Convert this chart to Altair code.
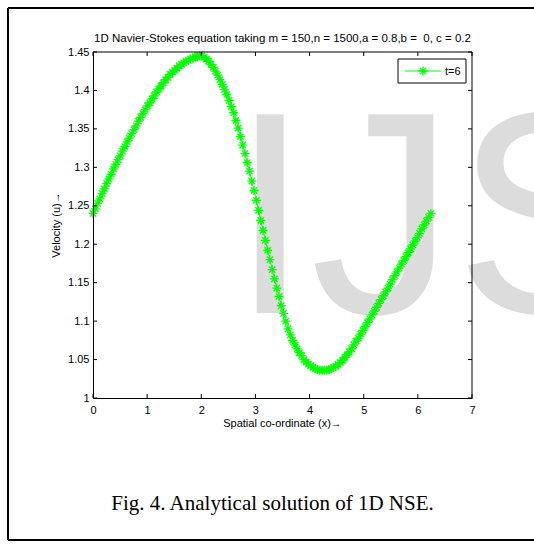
import altair as alt
import numpy as np
import pandas as pd

# ---- data ----
u_values = [
    1.240, 1.246, 1.253, 1.259, 1.266, 1.272, 1.279, 1.285, 1.291, 1.298,
    1.304, 1.310, 1.315, 1.321, 1.327, 1.333, 1.338, 1.344, 1.349, 1.354,
    1.360, 1.365, 1.370, 1.375, 1.380, 1.384, 1.389, 1.393, 1.398, 1.402,
    1.406, 1.410, 1.414, 1.417, 1.421, 1.424, 1.426, 1.429, 1.432, 1.434,
    1.436, 1.438, 1.439, 1.441, 1.442, 1.444, 1.444, 1.445, 1.445, 1.443,
    1.441, 1.438, 1.434, 1.430, 1.425, 1.420, 1.414, 1.408, 1.401, 1.395,
    1.387, 1.379, 1.371, 1.361, 1.351, 1.340, 1.329, 1.318, 1.306, 1.295,
    1.282, 1.270, 1.257, 1.244, 1.231, 1.218, 1.205, 1.192, 1.180, 1.167,
    1.155, 1.143, 1.132, 1.120, 1.110, 1.100, 1.090, 1.082, 1.075, 1.069,
    1.064, 1.059, 1.055, 1.050, 1.047, 1.044, 1.042, 1.040, 1.038, 1.037,
    1.036, 1.036, 1.036, 1.036, 1.037, 1.038, 1.040, 1.041, 1.044, 1.046,
    1.049, 1.053, 1.056, 1.060, 1.064, 1.069, 1.074, 1.078, 1.083, 1.088,
    1.093, 1.098, 1.103, 1.108, 1.113, 1.118, 1.123, 1.128, 1.133, 1.138,
    1.143, 1.148, 1.154, 1.159, 1.164, 1.169, 1.174, 1.179, 1.184, 1.189,
    1.194, 1.199, 1.204, 1.209, 1.214, 1.220, 1.225, 1.230, 1.235, 1.240,
]
X_STEP = 2 * np.pi / 150  # uniform spatial grid spacing
x_values = [round(i * X_STEP, 5) for i in range(len(u_values))]

x_ticks = [0, 1, 2, 3, 4, 5, 6, 7]
y_ticks = [1.0, 1.05, 1.1, 1.15, 1.2, 1.25, 1.3, 1.35, 1.4, 1.45]

title_text = "1D Navier-Stokes equation taking m = 150,n = 1500,a = 0.8,b = \u00a00, c = 0.2"
x_title = "Spatial co-ordinate (x)\u2192"
y_title = "Velocity (u)\u2192"
legend_label = "t=6"
caption = "Fig. 4. Analytical solution of 1D NSE."
watermark = "IJS"

# ---- layout / style ----
W, H = 379, 346
PAD = {"left": 93, "top": 52, "right": 62, "bottom": 150}
GREEN = "#00ff00"
STAR = "M-1,0L1,0M0,-1L0,1M-0.7,-0.7L0.7,0.7M-0.7,0.7L0.7,-0.7"
SANS = "Liberation Sans"
TICK = 4

df = pd.DataFrame({"x": x_values, "u": u_values})
dxt = pd.DataFrame({"x": x_ticks})
dyt = pd.DataFrame({"u": y_ticks})
one = pd.DataFrame({"a": [0]})

xs = alt.Scale(domain=[0, 7], nice=False)
ys = alt.Scale(domain=[1.0, 1.45], nice=False, zero=False)

xaxis = alt.Axis(values=x_ticks, format="d", title=None, ticks=False, grid=False,
                 labelFont=SANS, labelFontSize=11, labelColor="black", labelFlush=False,
                 domainColor="black", domainWidth=1, labelPadding=6, zindex=1)
yaxis = alt.Axis(values=y_ticks, format=".2~f", title=None, ticks=False, grid=False,
                 labelFont=SANS, labelFontSize=11, labelColor="black", labelFlush=False,
                 domainColor="black", domainWidth=1, labelPadding=4, zindex=1)

X = alt.X("x:Q", scale=xs, axis=xaxis)
Y = alt.Y("u:Q", scale=ys, axis=yaxis)

wm = alt.Chart(one).mark_text(font=SANS, fontSize=289, color="#dcdcdc",
                              align="left", baseline="alphabetic").encode(
    x=alt.value(137), y=alt.value(261), text=alt.value(watermark))

line = alt.Chart(df).mark_line(color=GREEN, strokeWidth=1).encode(x=X, y=Y)
pts = alt.Chart(df).mark_point(shape=STAR, size=81, filled=False, stroke=GREEN,
                               strokeWidth=1.3, opacity=1).encode(x=X, y=Y)

rk = dict(color="black", strokeWidth=1)
xt_bot = alt.Chart(dxt).mark_rule(**rk).encode(
    x=X, y=alt.value(H), y2=alt.value(H - TICK))
xt_top = alt.Chart(dxt).mark_rule(**rk).encode(
    x=X, y=alt.value(0), y2=alt.value(TICK))
yt_left = alt.Chart(dyt).mark_rule(**rk).encode(
    y=Y, x=alt.value(0), x2=alt.value(TICK))
yt_right = alt.Chart(dyt).mark_rule(**rk).encode(
    y=Y, x=alt.value(W), x2=alt.value(W - TICK))

box_top = alt.Chart(one).mark_rule(**rk).encode(
    x=alt.value(0), x2=alt.value(W), y=alt.value(0))
box_right = alt.Chart(one).mark_rule(**rk).encode(
    x=alt.value(W), y=alt.value(0), y2=alt.value(H))

# legend
leg_box = alt.Chart(one).mark_rect(fill="white", stroke="black", strokeWidth=1).encode(
    x=alt.value(305), x2=alt.value(373), y=alt.value(7), y2=alt.value(31))
leg_line = alt.Chart(one).mark_rule(color=GREEN, strokeWidth=1).encode(
    x=alt.value(312), x2=alt.value(348), y=alt.value(19))
leg_pt = alt.Chart(one).mark_point(shape=STAR, size=81, filled=False, stroke=GREEN,
                                   strokeWidth=1.3, opacity=1).encode(
    x=alt.value(330), y=alt.value(19))
leg_txt = alt.Chart(one).mark_text(font=SANS, fontSize=11, color="black",
                                   align="left", baseline="middle").encode(
    x=alt.value(352), y=alt.value(20), text=alt.value(legend_label))

# texts
ttl = alt.Chart(one).mark_text(font=SANS, fontSize=11.5, color="black",
                               align="center", baseline="alphabetic").encode(
    x=alt.value(W / 2), y=alt.value(-10), text=alt.value(title_text))
xt = alt.Chart(one).mark_text(font=SANS, fontSize=11, color="black",
                              align="center", baseline="middle").encode(
    x=alt.value(W / 2), y=alt.value(372), text=alt.value(x_title))
yt = alt.Chart(one).mark_text(font=SANS, fontSize=11, color="black", angle=270,
                              align="center", baseline="middle").encode(
    x=alt.value(-36), y=alt.value(H / 2), text=alt.value(y_title))
cap = alt.Chart(one).mark_text(font="Liberation Serif", fontSize=21, color="black",
                               align="center", baseline="alphabetic").encode(
    x=alt.value(179.5), y=alt.value(458), text=alt.value(caption))

# outer frame
fk = dict(color="black", strokeWidth=2)
fr_top = alt.Chart(one).mark_rule(**fk).encode(
    x=alt.value(-85), x2=alt.value(445), y=alt.value(-44))
fr_left = alt.Chart(one).mark_rule(**fk).encode(
    x=alt.value(-85), y=alt.value(-44), y2=alt.value(488))
fr_bot = alt.Chart(one).mark_rule(**fk).encode(
    x=alt.value(-85), x2=alt.value(445), y=alt.value(488))

chart = alt.layer(
    wm, line, pts, xt_bot, xt_top, yt_left, yt_right, box_top, box_right,
    leg_box, leg_line, leg_pt, leg_txt, ttl, xt, yt, cap, fr_top, fr_left, fr_bot,
).properties(
    width=W, height=H,
    autosize=alt.AutoSizeParams(type="none"),
    padding=PAD,
    background="white",
).configure_view(strokeWidth=0)

chart.save("out.html", embed_options={"renderer": "svg", "actions": False})
